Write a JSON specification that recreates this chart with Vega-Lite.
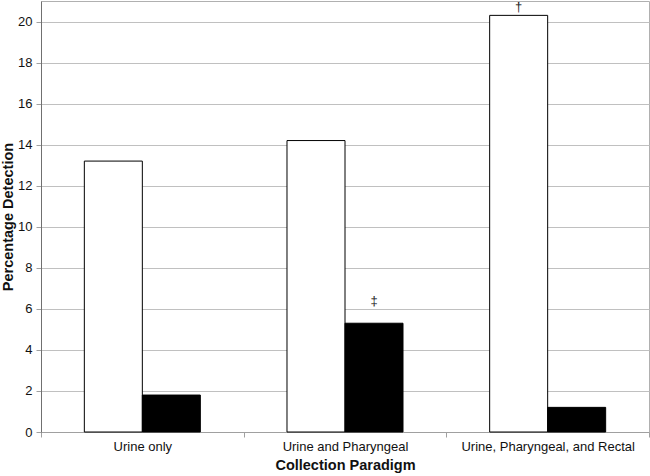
{
  "$schema": "https://vega.github.io/schema/vega-lite/v6.json",
  "width": 608,
  "height": 431,
  "autosize": {"type": "none"},
  "padding": {"left": 41, "top": 1, "right": 1, "bottom": 44},
  "background": "white",
  "config": {
    "font": "Liberation Sans",
    "view": {"stroke": "#b0b0b0", "strokeWidth": 1}
  },
  "data": {
    "values": [
      {"paradigm": "Urine only", "series": "A", "value": 13.2, "note": ""},
      {"paradigm": "Urine only", "series": "B", "value": 1.8, "note": ""},
      {"paradigm": "Urine and Pharyngeal", "series": "A", "value": 14.2, "note": ""},
      {"paradigm": "Urine and Pharyngeal", "series": "B", "value": 5.3, "note": "‡"},
      {"paradigm": "Urine, Pharyngeal, and Rectal", "series": "A", "value": 20.3, "note": "†"},
      {"paradigm": "Urine, Pharyngeal, and Rectal", "series": "B", "value": 1.2, "note": ""}
    ]
  },
  "encoding": {
    "x": {
      "field": "paradigm",
      "type": "nominal",
      "sort": null,
      "scale": {"paddingInner": 0, "paddingOuter": 0},
      "axis": {
        "title": "Collection Paradigm",
        "labelAngle": 0,
        "labelFontSize": 13,
        "labelColor": "#111",
        "labelPadding": 3,
        "tickBand": "extent",
        "tickSize": 5,
        "tickColor": "#a0a0a0",
        "domainColor": "#a0a0a0",
        "titleFontSize": 14.5,
        "titleFontWeight": "bold",
        "titleColor": "#111",
        "titlePadding": 5
      }
    },
    "xOffset": {
      "field": "series",
      "type": "nominal",
      "scale": {"paddingInner": 0, "paddingOuter": 0.747}
    },
    "y": {
      "field": "value",
      "type": "quantitative",
      "scale": {"domain": [0, 21], "nice": false},
      "axis": {
        "title": "Percentage Detection",
        "values": [0, 2, 4, 6, 8, 10, 12, 14, 16, 18, 20],
        "labelFontSize": 13,
        "labelColor": "#111",
        "labelPadding": 4,
        "tickSize": 5,
        "tickColor": "#a0a0a0",
        "gridColor": "#c0c0c0",
        "domainColor": "#707070",
        "titleFontSize": 14.5,
        "titleFontWeight": "bold",
        "titleColor": "#111",
        "titlePadding": 2
      }
    }
  },
  "layer": [
    {
      "mark": {"type": "bar", "stroke": "black", "strokeWidth": 1},
      "encoding": {
        "fill": {
          "field": "series",
          "type": "nominal",
          "scale": {"domain": ["A", "B"], "range": ["white", "black"]},
          "legend": null
        }
      }
    },
    {
      "transform": [{"filter": "datum.note == '†'"}],
      "mark": {"type": "text", "baseline": "alphabetic", "fontSize": 13, "dy": -4, "fill": "#222"},
      "encoding": {"text": {"field": "note"}}
    },
    {
      "transform": [{"filter": "datum.note == '‡'"}],
      "mark": {"type": "text", "baseline": "alphabetic", "fontSize": 13, "dy": -18, "fill": "#222"},
      "encoding": {"text": {"field": "note"}}
    }
  ]
}
